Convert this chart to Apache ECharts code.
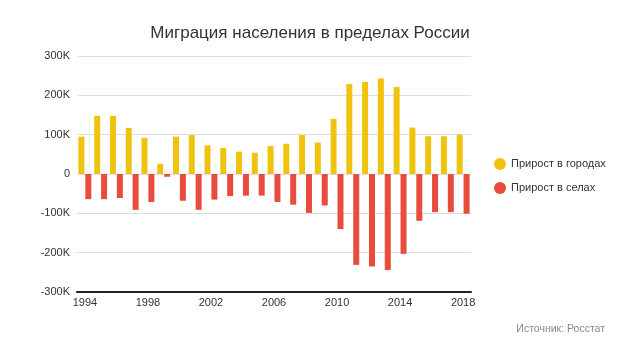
<!DOCTYPE html>
<html><head><meta charset="utf-8">
<script src="https://cdn.jsdelivr.net/npm/echarts@6/dist/echarts.min.js"></script>
<style>html,body{margin:0;padding:0;background:#fff}#c{width:620px;height:348px}</style>
</head><body><div id="c"></div>
<script>
const years = ['1994','1995','1996','1997','1998','1999','2000','2001','2002','2003','2004','2005','2006','2007','2008','2009','2010','2011','2012','2013','2014','2015','2016','2017','2018'];
const cityGrowth = [95,148,148,117,92,26,95,99,73,66,57,54,71,77,99,80,140,229,234,243,221,118,96,96,100];
const villageGrowth = [-64,-64,-61,-91,-71,-7,-68,-91,-65,-56,-55,-55,-71,-78,-99,-80,-140,-231,-235,-244,-203,-119,-97,-97,-101];
const yTicks = {min:-300, max:300, step:100};

const chart = echarts.init(document.getElementById('c'));
const font = 'Liberation Sans, Arial, sans-serif';
chart.setOption({
  animation:false,
  title:{text:'Миграция населения в пределах России', left:'center', top:20,
    textStyle:{fontFamily:font, fontSize:17, fontWeight:'normal', color:'#333'}},
  legend:{orient:'vertical', left:489, top:153, itemGap:12, icon:'circle', itemWidth:12, itemHeight:12,
    textStyle:{fontFamily:font, fontSize:11, color:'#333'},
    data:['Прирост в городах','Прирост в селах']},
  graphic:[{type:'text', right:15, top:324, style:{text:'Источник: Росстат', fill:'#888', font:'10.5px '+font}}],
  grid:{left:77, right:149, top:56, bottom:56},
  xAxis:{type:'category', data:years, position:'bottom',
    axisLine:{onZero:false, lineStyle:{color:'#222', width:2}},
    axisTick:{show:false},
    axisLabel:{interval:3, color:'#333', fontFamily:font, fontSize:11, margin:5}},
  yAxis:{type:'value', min:yTicks.min, max:yTicks.max, interval:yTicks.step,
    axisLine:{show:false}, axisTick:{show:false},
    splitLine:{lineStyle:{color:'#ddd'}},
    axisLabel:{color:'#333', fontFamily:font, fontSize:11, margin:7,
      formatter:v=> v===0 ? '0' : v+'K'}},
  series:[
    {name:'Прирост в городах', type:'bar', data:cityGrowth, barWidth:6, barGap:'15%', itemStyle:{color:'#f0c30f'}},
    {name:'Прирост в селах', type:'bar', data:villageGrowth, barWidth:6, itemStyle:{color:'#e74c3c'}}
  ]
});
</script></body></html>
